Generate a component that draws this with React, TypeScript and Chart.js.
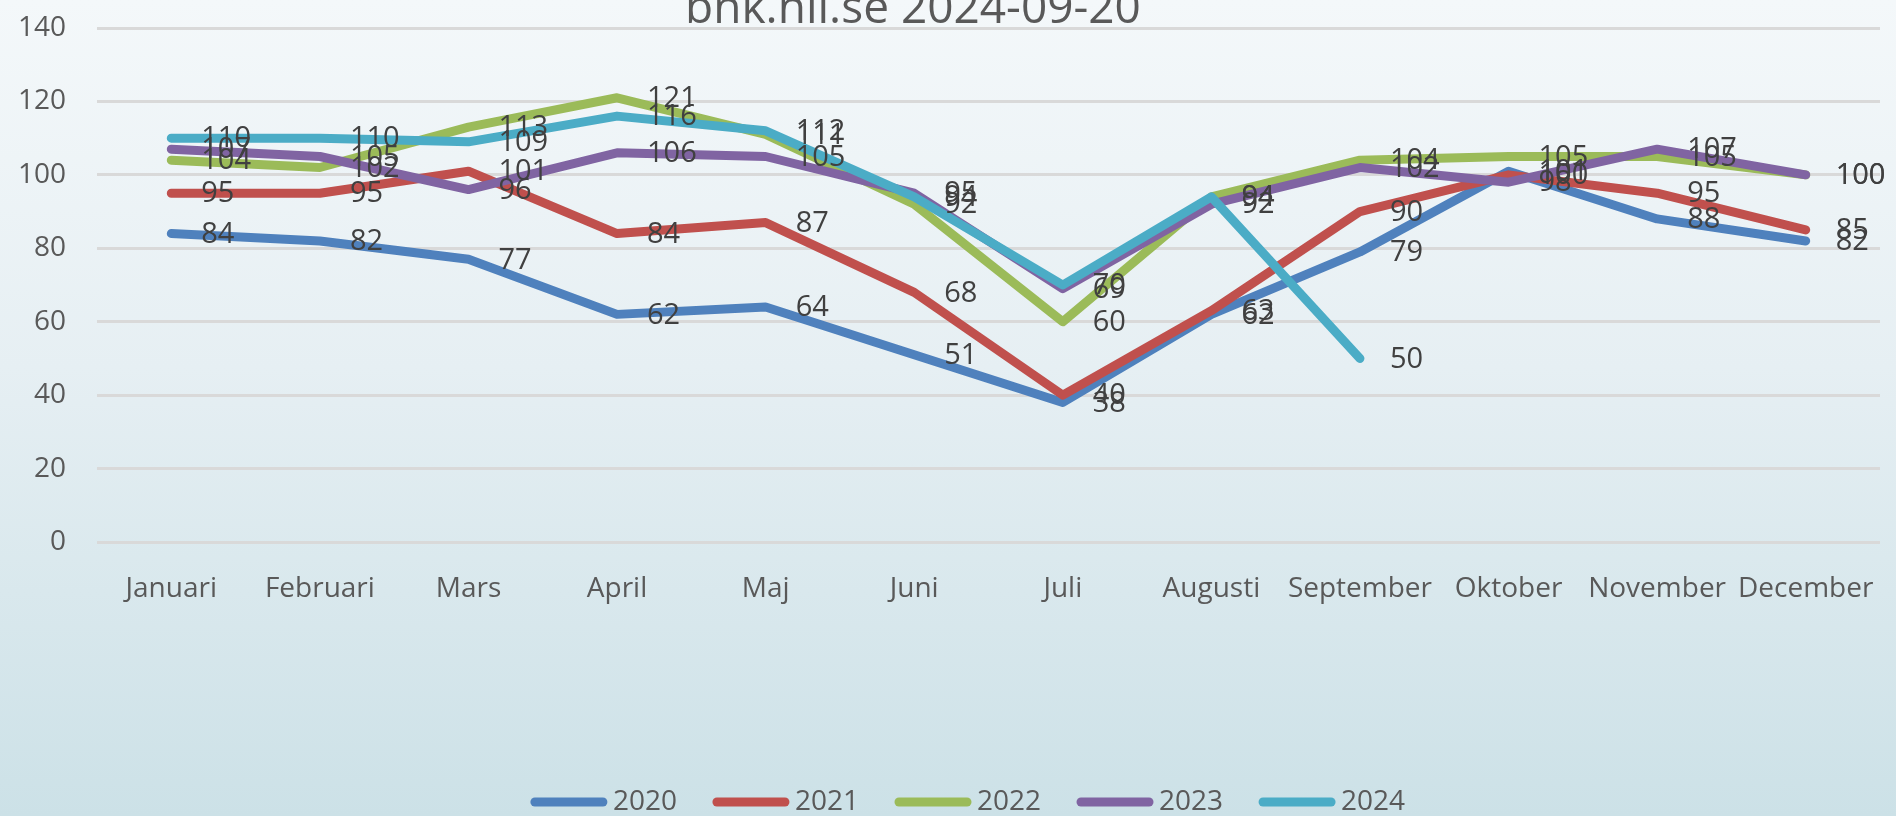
import React, { useEffect, useRef } from "react";
import { Chart, registerables } from "chart.js";

Chart.register(...registerables);

const TITLE = "bnk.nll.se 2024-09-20";
const MONTHS = ["Januari", "Februari", "Mars", "April", "Maj", "Juni", "Juli", "Augusti", "September", "Oktober", "November", "December"];
const Y_TICKS = [0, 20, 40, 60, 80, 100, 120, 140];

const S2020 = [84, 82, 77, 62, 64, 51, 38, 62, 79, 101, 88, 82];
const S2021 = [95, 95, 101, 84, 87, 68, 40, 63, 90, 100, 95, 85];
const S2022 = [104, 102, 113, 121, 111, 92, 60, 94, 104, 105, 105, 100];
const S2023 = [107, 105, 96, 106, 105, 95, 69, 92, 102, 98, 107, 100];
const S2024 = [110, 110, 109, 116, 112, 94, 70, 94, 50, null, null, null];

const SERIES_NAMES = ["2020", "2021", "2022", "2023", "2024"];
const SERIES_DATA = [S2020, S2021, S2022, S2023, S2024];
const COLORS = ["#4f81bd", "#c0504d", "#9bbb59", "#8064a2", "#4bacc6"];

const FONT = "'Open Sans', 'Noto Sans', sans-serif";
const AXIS_COLOR = "#595959";
const LABEL_COLOR = "#404040";

export default function App() {
  const ref = useRef<HTMLCanvasElement | null>(null);

  useEffect(() => {
    document.body.style.margin = "0";
    const canvas = ref.current;
    if (!canvas) return;

    const bgPlugin = {
      id: "bg",
      beforeDraw(chart: any) {
        const { ctx, width, height } = chart;
        const g = ctx.createLinearGradient(0, 0, 0, height);
        g.addColorStop(0, "#f4f8fa");
        g.addColorStop(0.45, "#e6eff3");
        g.addColorStop(1, "#cce1e7");
        ctx.save();
        ctx.fillStyle = g;
        ctx.fillRect(0, 0, width, height);
        ctx.restore();
      },
    };

    const titlePlugin = {
      id: "topTitle",
      afterDraw(chart: any) {
        const { ctx } = chart;
        ctx.save();
        ctx.font = `46px ${FONT}`;
        ctx.fillStyle = AXIS_COLOR;
        ctx.textAlign = "center";
        ctx.textBaseline = "alphabetic";
        ctx.fillText(TITLE, 913, 23);
        ctx.restore();
      },
    };

    const labelPlugin = {
      id: "dataLabels",
      afterDatasetsDraw(chart: any) {
        const { ctx } = chart;
        ctx.save();
        ctx.font = `29px ${FONT}`;
        ctx.fillStyle = LABEL_COLOR;
        ctx.textAlign = "left";
        ctx.textBaseline = "middle";
        chart.data.datasets.forEach((ds: any, i: number) => {
          const meta = chart.getDatasetMeta(i);
          meta.data.forEach((pt: any, j: number) => {
            const v = ds.data[j];
            if (v === null || v === undefined) return;
            ctx.fillText(String(v), pt.x + 30, pt.y + 1);
          });
        });
        ctx.restore();
      },
    };

    const legendPlugin = {
      id: "customLegend",
      afterDraw(chart: any) {
        const { ctx } = chart;
        ctx.save();
        ctx.font = `28px ${FONT}`;
        ctx.textBaseline = "middle";
        ctx.textAlign = "left";
        const y = 802;
        const lineW = 76;
        const gap = 6;
        const itemGap = 36;
        const widths = SERIES_NAMES.map((n) => lineW + gap + ctx.measureText(n).width);
        const total = widths.reduce((a, b) => a + b, 0) + itemGap * (SERIES_NAMES.length - 1);
        let x = 968 - total / 2;
        SERIES_NAMES.forEach((n, i) => {
          ctx.strokeStyle = COLORS[i];
          ctx.lineWidth = 9;
          ctx.lineCap = "round";
          ctx.beginPath();
          ctx.moveTo(x + 4, y);
          ctx.lineTo(x + lineW - 4, y);
          ctx.stroke();
          ctx.fillStyle = AXIS_COLOR;
          ctx.fillText(n, x + lineW + gap, y);
          x += widths[i] + itemGap;
        });
        ctx.restore();
      },
    };

    const chart = new Chart(canvas, {
      type: "line",
      data: {
        labels: MONTHS,
        datasets: SERIES_NAMES.map((name, i) => ({
          label: name,
          data: SERIES_DATA[i],
          borderColor: COLORS[i],
          backgroundColor: COLORS[i],
          borderWidth: 9,
          pointRadius: 0,
          pointHoverRadius: 0,
          borderJoinStyle: "round" as const,
          borderCapStyle: "round" as const,
          tension: 0,
          spanGaps: false,
          order: SERIES_NAMES.length - i,
        })),
      },
      options: {
        responsive: false,
        animation: false,
        layout: { padding: { top: 28, right: 16, bottom: 0, left: 0 } },
        plugins: {
          legend: { display: false },
          title: { display: false },
          tooltip: { enabled: false },
        },
        scales: {
          x: {
            offset: true,
            grid: { display: false, drawTicks: false },
            border: { display: false },
            ticks: {
              color: AXIS_COLOR,
              font: { family: FONT, size: 28 },
              padding: 30,
              maxRotation: 0,
              autoSkip: false,
            },
            afterFit(scale: any) {
              scale.height = 816 - 542;
              scale.paddingLeft = 0;
              scale.paddingRight = 0;
            },
          },
          y: {
            min: 0,
            max: 140,
            afterBuildTicks(scale: any) {
              scale.ticks = Y_TICKS.map((v) => ({ value: v }));
            },
            grid: { color: "#d9d9d9", lineWidth: 3, drawTicks: false },
            border: { display: false },
            ticks: {
              color: AXIS_COLOR,
              font: { family: FONT, size: 28 },
              padding: 31,
            },
            afterFit(scale: any) {
              scale.width = 97;
              scale.paddingTop = 0;
              scale.paddingBottom = 0;
            },
          },
        },
      },
      plugins: [bgPlugin, labelPlugin, titlePlugin, legendPlugin],
    });

    return () => chart.destroy();
  }, []);

  return (
    <div style={{ width: 1896, height: 816 }}>
      <canvas ref={ref} width={1896} height={816} style={{ display: "block" }} />
    </div>
  );
}
